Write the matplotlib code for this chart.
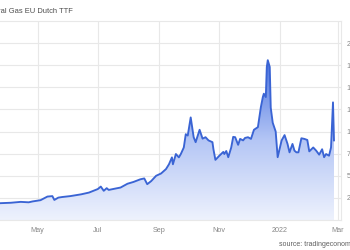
import matplotlib
matplotlib.use("Agg")
import matplotlib.pyplot as plt
import matplotlib.dates as mdates
from matplotlib.colors import LinearSegmentedColormap
import numpy as np
import pandas as pd

# TTF front month price (EUR/MWh)
dates = ["2021-03-24", "2021-04-04", "2021-04-14", "2021-04-22", "2021-04-26",
         "2021-05-04", "2021-05-11", "2021-05-16", "2021-05-18", "2021-05-22",
         "2021-05-26", "2021-06-03", "2021-06-14", "2021-06-22", "2021-07-01",
         "2021-07-04", "2021-07-07", "2021-07-10", "2021-07-12", "2021-07-19",
         "2021-07-24", "2021-07-31", "2021-08-06", "2021-08-13", "2021-08-17",
         "2021-08-20", "2021-08-24", "2021-08-29", "2021-09-03", "2021-09-08",
         "2021-09-11", "2021-09-14", "2021-09-15", "2021-09-18", "2021-09-21",
         "2021-09-23", "2021-09-26", "2021-09-28", "2021-09-30", "2021-10-03",
         "2021-10-06", "2021-10-08", "2021-10-12", "2021-10-15", "2021-10-18",
         "2021-10-21", "2021-10-25", "2021-10-26", "2021-10-28", "2021-11-01",
         "2021-11-05", "2021-11-06", "2021-11-08", "2021-11-10", "2021-11-13",
         "2021-11-15", "2021-11-17", "2021-11-20", "2021-11-22", "2021-11-25",
         "2021-11-27", "2021-11-30", "2021-12-03", "2021-12-06", "2021-12-10",
         "2021-12-13", "2021-12-15", "2021-12-16", "2021-12-18", "2021-12-19",
         "2021-12-20", "2021-12-22", "2021-12-23", "2021-12-25", "2021-12-28",
         "2021-12-30", "2022-01-03", "2022-01-06", "2022-01-09", "2022-01-11",
         "2022-01-14", "2022-01-16", "2022-01-18", "2022-01-20", "2022-01-23",
         "2022-01-26", "2022-01-29", "2022-01-31", "2022-02-04", "2022-02-07",
         "2022-02-10", "2022-02-13", "2022-02-15", "2022-02-17", "2022-02-20",
         "2022-02-22", "2022-02-24", "2022-02-25"]
prices = [19.0, 19.5, 20.5, 20.0, 21.0,
          22.4, 26.5, 27.0, 22.7, 25.3,
          26.0, 27.0, 29.0, 31.0, 35.0,
          37.8, 33.0, 36.0, 34.0, 35.6,
          36.7, 41.0, 43.0, 46.0, 47.0,
          40.5, 44.0, 50.0, 52.6, 57.6,
          63.0, 70.8, 63.0, 74.6, 70.8,
          74.6, 82.0, 97.0, 95.5, 116.0,
          93.6, 88.0, 102.0, 92.0, 93.6,
          90.0, 88.0, 80.0, 68.0, 72.7,
          77.0, 74.6, 78.0, 71.0, 82.0,
          94.0, 93.6, 85.0, 91.7, 90.0,
          92.8, 93.6, 91.7, 102.0, 105.0,
          127.6, 139.0, 142.8, 139.0, 173.0,
          180.7, 173.0, 127.0, 110.0, 100.0,
          71.0, 90.0, 96.0, 86.0, 76.5,
          86.0, 78.4, 76.5, 76.5, 92.4,
          91.7, 90.5, 77.6, 82.0, 78.4,
          73.9, 80.0, 71.0, 74.6, 72.7,
          82.0, 133.0, 90.0]

tick_dates = ["2021-05-01", "2021-07-01", "2021-09-01", "2021-11-01", "2022-01-01", "2022-03-01"]
tick_labels = ["May", "Jul", "Sep", "Nov", "2022", "Mar"]
y_ticks = [25, 50, 75, 100, 125, 150, 175, 200]

x = pd.to_datetime(dates)
xt = pd.to_datetime(tick_dates)

plt.rcParams["font.family"] = ["Liberation Sans", "DejaVu Sans"]
grey = "#888888"
grid_c = "#e8e8e8"

fig = plt.figure(figsize=(3.5, 2.5), dpi=100)
ax = fig.add_axes([0.0, 0.12, 0.974, 0.796])

x0 = pd.Timestamp("2021-03-24")
x1 = pd.Timestamp("2022-03-04")
ax.set_xlim(x0, x1)
ax.set_ylim(0, 225)

# gradient fill under the line
cmap = LinearSegmentedColormap.from_list("g", ["#eef2fd", "#b4c6f5", "#4a72e0"])
grad = np.linspace(0, 1, 256).reshape(-1, 1)
img = ax.imshow(grad, cmap=cmap, aspect="auto", origin="lower",
                extent=[mdates.date2num(x0), mdates.date2num(x1), 0, 180], zorder=2)
poly = ax.fill_between(x, prices, 0, color="none", lw=0)
clip = poly.get_paths()[0]
img.set_clip_path(clip, transform=ax.transData)

ax.plot(x, prices, color="#3a64d4", lw=1.35, zorder=3)

ax.set_xticks(xt)
ax.set_xticklabels(tick_labels)
ax.set_yticks(y_ticks)
ax.yaxis.tick_right()
ax.tick_params(axis="both", length=0, colors=grey, labelsize=5.2)
ax.tick_params(axis="x", pad=5)
for lab in ax.get_yticklabels():
    lab.set_horizontalalignment("left")
ax.tick_params(axis="y", pad=4)
ax.grid(True, color=grid_c, lw=0.8, zorder=0)
ax.set_axisbelow(True)
for s in ax.spines.values():
    s.set_color(grid_c)
    s.set_linewidth(0.8)
ax.spines["left"].set_visible(False)

fig.text(-0.05, 0.955, "Natural Gas EU Dutch TTF", fontsize=5.4, color="#4d4d4d", va="center")
fig.text(0.797, 0.02, "source: tradingeconomics.com", fontsize=5.0, color="#5f5f5f", va="center")

fig.savefig("out.png", dpi=100)
